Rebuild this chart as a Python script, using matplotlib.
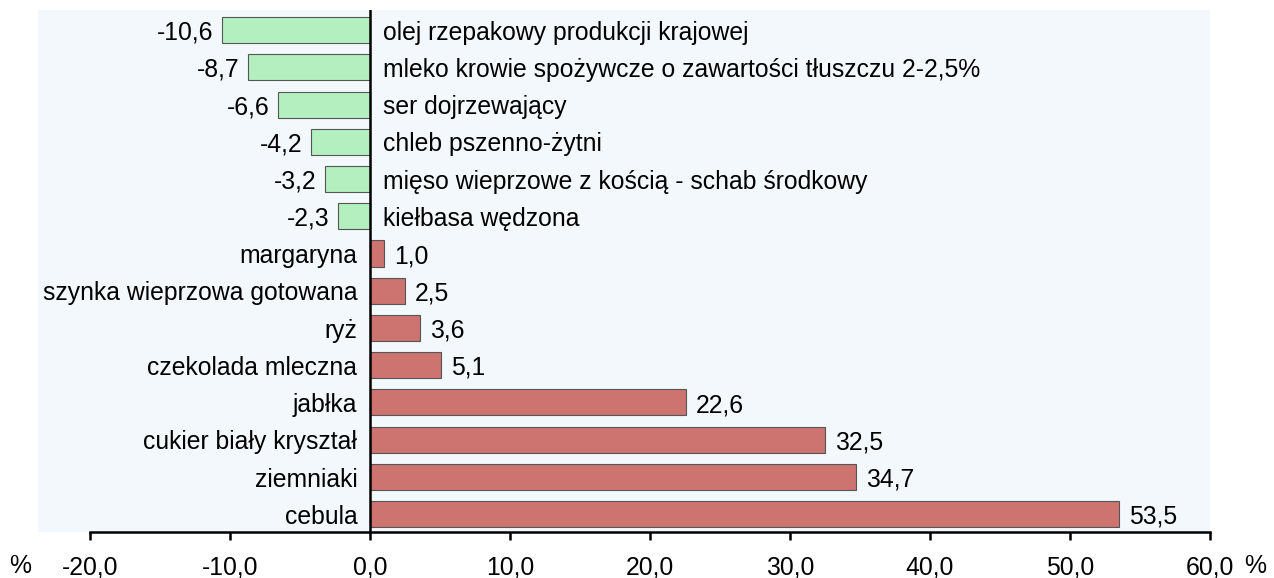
import numpy as np
import matplotlib.pyplot as plt

plt.rcParams['font.family'] = ['Liberation Sans', 'DejaVu Sans']

categories = ['olej rzepakowy produkcji krajowej',
              'mleko krowie spożywcze o zawartości tłuszczu 2-2,5%',
              'ser dojrzewający',
              'chleb pszenno-żytni',
              'mięso wieprzowe z kością - schab środkowy',
              'kiełbasa wędzona',
              'margaryna',
              'szynka wieprzowa gotowana',
              'ryż',
              'czekolada mleczna',
              'jabłka',
              'cukier biały kryształ',
              'ziemniaki',
              'cebula']
values = [-10.6, -8.7, -6.6, -4.2, -3.2, -2.3, 1.0, 2.5, 3.6, 5.1, 22.6, 32.5, 34.7, 53.5]
ticks = [-20, -10, 0, 10, 20, 30, 40, 50, 60]

fig = plt.figure(figsize=(12.74, 5.78), dpi=100)
ax = fig.add_axes([38 / 1274, 1 - 532 / 578, (1210 - 38) / 1274, 522 / 578])
ax.set_facecolor('#f3f8fc')

y = np.arange(len(values))
colors = ['#b3efbf' if v < 0 else '#cd7370' for v in values]
ax.barh(y, values, height=0.7, color=colors, edgecolor='#555555', linewidth=0.8, zorder=2)
ax.axvline(0, color='black', linewidth=1.8, zorder=3)

fs = 17.8
dy = 0.07
for i, (cat, v) in enumerate(zip(categories, values)):
    lbl = f'{v:.1f}'.replace('.', ',')
    if v < 0:
        ax.text(0.9, i + dy, cat, ha='left', va='center', fontsize=fs)
        ax.text(v - 0.6, i + dy, lbl, ha='right', va='center', fontsize=fs)
    else:
        ax.text(-0.9, i + dy, cat, ha='right', va='center', fontsize=fs)
        ax.text(v + 0.7, i + dy, lbl, ha='left', va='center', fontsize=fs)

ax.set_xlim(-20 - 52 / 14, 60)
ax.set_ylim(13.48, -0.54)
ax.set_yticks([])
for s in ['top', 'right', 'left']:
    ax.spines[s].set_visible(False)
ax.spines['bottom'].set_bounds(-20, 60)
ax.spines['bottom'].set_linewidth(1.8)
ax.set_xticks(ticks)
ax.set_xticklabels([f'{t:.1f}'.replace('.', ',') for t in ticks], fontsize=fs)
ax.tick_params(axis='x', direction='out', length=6, width=1.8, pad=11)

fig.text(20 / 1274, 1 - 566 / 578, '%', ha='center', va='center', fontsize=fs)
fig.text(1255 / 1274, 1 - 566 / 578, '%', ha='center', va='center', fontsize=fs)

fig.savefig('out.png', dpi=100)
